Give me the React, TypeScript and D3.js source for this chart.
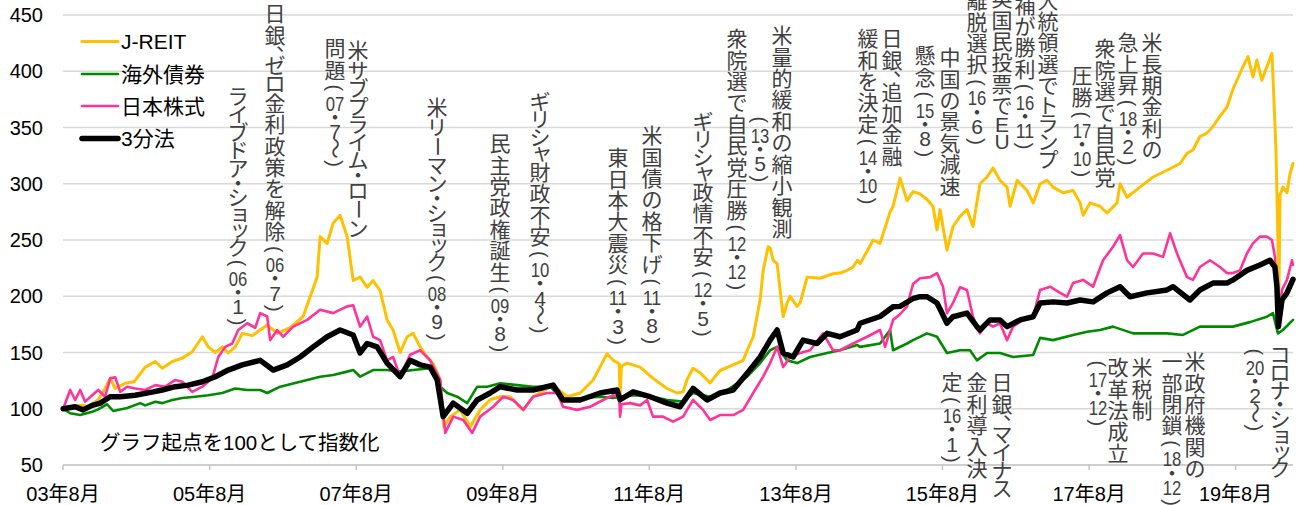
import React from "react";
import * as d3 from "d3";

// ---------------- data ----------------
const yTickValues = [50, 100, 150, 200, 250, 300, 350, 400, 450];
const xTickYears = [2003, 2005, 2007, 2009, 2011, 2013, 2015, 2017, 2019];
const xTickLabels = ["03年8月", "05年8月", "07年8月", "09年8月", "11年8月", "13年8月", "15年8月", "17年8月", "19年8月"];

const seriesNames = ["J-REIT", "海外債券", "日本株式", "3分法"];
const seriesColors = ["#FFC000", "#008A00", "#FF3399", "#000000"];

// [decimal year, index value]
const reitPoints: [number, number][] = [
  [2003.583, 100], [2003.747, 103], [2003.856, 103], [2003.924, 102], [2004.061, 108], [2004.156, 118], [2004.224, 127], [2004.293, 118], [2004.429, 122.7], [2004.55, 124], [2004.702, 137], [2004.838, 142], [2004.934, 136], [2005.07, 142], [2005.207, 145], [2005.343, 150.7], [2005.48, 164], [2005.561, 155], [2005.657, 150], [2005.752, 155], [2005.834, 149.6], [2005.93, 155], [2006.025, 167], [2006.162, 165], [2006.366, 174.5], [2006.503, 167], [2006.68, 172], [2006.857, 182], [2007.048, 217], [2007.089, 253], [2007.185, 247], [2007.267, 265], [2007.362, 272], [2007.458, 253], [2007.54, 214], [2007.635, 217], [2007.731, 208], [2007.812, 214], [2007.908, 205], [2008.003, 179], [2008.085, 170], [2008.181, 150], [2008.276, 164], [2008.358, 167], [2008.454, 155], [2008.549, 146], [2008.631, 140], [2008.727, 125.6], [2008.775, 84], [2008.863, 93], [2008.999, 99], [2009.136, 84], [2009.272, 99], [2009.408, 108], [2009.545, 110.7], [2009.681, 110.7], [2009.859, 99], [2009.995, 110.7], [2010.268, 121], [2010.459, 110.7], [2010.636, 114], [2010.814, 125.6], [2011.005, 149], [2011.087, 143], [2011.17, 140], [2011.182, 111], [2011.2, 138], [2011.278, 140.6], [2011.455, 137], [2011.632, 127], [2011.823, 118], [2011.96, 114], [2012.042, 115], [2012.096, 126], [2012.178, 136], [2012.273, 132], [2012.41, 123], [2012.546, 134], [2012.724, 139], [2012.86, 143], [2012.915, 152], [2012.997, 164], [2013.092, 197], [2013.133, 223], [2013.201, 244], [2013.228, 243], [2013.269, 232], [2013.324, 229], [2013.365, 205], [2013.406, 182], [2013.46, 194], [2013.501, 200], [2013.597, 191], [2013.637, 194], [2013.733, 217], [2013.91, 216], [2014.087, 220], [2014.183, 220.6], [2014.279, 223], [2014.361, 226], [2014.42, 232], [2014.456, 229], [2014.552, 240], [2014.634, 250], [2014.729, 247], [2014.866, 275], [2014.907, 280], [2015.002, 305], [2015.098, 285], [2015.18, 293], [2015.275, 291], [2015.371, 286], [2015.452, 280], [2015.507, 259], [2015.548, 277], [2015.643, 241], [2015.725, 262], [2015.821, 271], [2015.916, 277], [2015.998, 262], [2016.093, 300], [2016.189, 306], [2016.271, 314], [2016.366, 303], [2016.462, 297], [2016.503, 280], [2016.599, 303], [2016.735, 294], [2016.817, 283], [2016.912, 300], [2017.007, 303], [2017.089, 297], [2017.226, 292], [2017.362, 294], [2017.458, 283], [2017.499, 272], [2017.594, 283], [2017.73, 280], [2017.826, 274], [2017.962, 283], [2018.003, 300], [2018.099, 288], [2018.276, 297], [2018.454, 306], [2018.645, 312], [2018.822, 318], [2018.917, 327], [2018.999, 330], [2019.094, 342], [2019.19, 345], [2019.272, 351], [2019.367, 360], [2019.463, 368], [2019.545, 384], [2019.64, 398], [2019.681, 404], [2019.75, 413], [2019.818, 395], [2019.872, 410], [2019.94, 392], [2020.009, 404], [2020.077, 416], [2020.105, 374], [2020.132, 330], [2020.159, 250], [2020.172, 200], [2020.187, 290], [2020.227, 297], [2020.282, 292], [2020.323, 309], [2020.364, 318],
];

const bondPoints: [number, number][] = [
  [2003.583, 100], [2003.679, 96], [2003.815, 94.4], [2003.979, 97.4], [2004.047, 99], [2004.183, 104], [2004.265, 98], [2004.456, 100.6], [2004.634, 105], [2004.702, 103], [2004.838, 106.3], [2004.934, 105], [2005.07, 107.8], [2005.207, 109.6], [2005.384, 110.7], [2005.561, 112], [2005.752, 114], [2005.93, 118], [2006.093, 116.7], [2006.271, 116.7], [2006.366, 114], [2006.544, 119.6], [2006.816, 124], [2007.089, 128.5], [2007.267, 130], [2007.458, 133], [2007.54, 134.4], [2007.635, 128.5], [2007.812, 134.4], [2008.003, 134.4], [2008.181, 133], [2008.358, 134.4], [2008.59, 136], [2008.727, 119.6], [2008.822, 114], [2008.958, 110.7], [2009.095, 105], [2009.231, 119.6], [2009.367, 119.6], [2009.545, 122.7], [2009.777, 121], [2009.995, 119.6], [2010.227, 119.6], [2010.404, 107.8], [2010.677, 109.6], [2010.909, 110.7], [2011.087, 109.6], [2011.36, 112], [2011.632, 110.7], [2011.823, 107.8], [2012.042, 106.3], [2012.178, 114], [2012.41, 110.7], [2012.642, 116.7], [2012.915, 128.5], [2013.092, 140.6], [2013.228, 152], [2013.324, 155], [2013.46, 143], [2013.597, 140.6], [2013.774, 146], [2014.006, 149.6], [2014.183, 152], [2014.415, 156.7], [2014.456, 155], [2014.729, 158], [2014.866, 170], [2014.907, 152], [2015.098, 158], [2015.18, 161], [2015.371, 167], [2015.507, 164], [2015.643, 149.6], [2015.821, 152], [2015.957, 152], [2016.052, 143], [2016.189, 149.6], [2016.366, 149.6], [2016.544, 146], [2016.817, 147.8], [2016.912, 163], [2017.089, 161], [2017.362, 165.6], [2017.553, 168.5], [2017.73, 170], [2017.908, 173], [2018.181, 167], [2018.372, 167], [2018.645, 167], [2018.863, 165.6], [2019.094, 173], [2019.327, 173], [2019.545, 173], [2019.777, 177], [2020.009, 181.8], [2020.091, 185], [2020.159, 167], [2020.227, 170], [2020.364, 179],
];

const stockPoints: [number, number][] = [
  [2003.583, 100], [2003.679, 116.7], [2003.747, 107.8], [2003.815, 116.7], [2003.883, 106.3], [2003.979, 112], [2004.061, 116.7], [2004.156, 110.7], [2004.224, 127], [2004.293, 128], [2004.361, 115], [2004.456, 119.6], [2004.565, 118], [2004.702, 116.7], [2004.838, 121], [2004.975, 119.6], [2005.111, 125.6], [2005.207, 124], [2005.343, 115], [2005.48, 119.6], [2005.616, 127], [2005.698, 146], [2005.793, 155], [2005.889, 158], [2005.971, 170], [2006.093, 176], [2006.203, 172], [2006.271, 185], [2006.366, 182], [2006.407, 161], [2006.503, 170], [2006.584, 164], [2006.721, 173], [2006.912, 179], [2007.089, 188], [2007.267, 185], [2007.458, 191], [2007.54, 192], [2007.635, 173], [2007.731, 182], [2007.812, 164], [2007.908, 161], [2008.003, 143], [2008.085, 146], [2008.181, 128.5], [2008.317, 148], [2008.454, 152], [2008.59, 143], [2008.727, 125.6], [2008.795, 78.5], [2008.904, 93], [2009.04, 90], [2009.163, 78.5], [2009.272, 93], [2009.449, 101.8], [2009.586, 110.7], [2009.722, 107.8], [2009.859, 99], [2009.995, 110.7], [2010.186, 114], [2010.322, 114], [2010.404, 101.8], [2010.595, 99], [2010.773, 101.8], [2010.95, 107.8], [2011.087, 112], [2011.17, 110], [2011.182, 93], [2011.2, 104], [2011.319, 105], [2011.455, 103], [2011.551, 107.8], [2011.632, 93], [2011.769, 93], [2011.905, 88.5], [2012.042, 93], [2012.178, 107.8], [2012.314, 99], [2012.41, 90], [2012.546, 94.4], [2012.724, 94.4], [2012.86, 99], [2012.997, 114], [2013.133, 128.5], [2013.228, 140.6], [2013.324, 155], [2013.406, 137], [2013.501, 146], [2013.637, 149.6], [2013.774, 152], [2013.951, 167], [2014.087, 152], [2014.183, 152], [2014.361, 158], [2014.552, 164], [2014.729, 170], [2014.798, 155], [2014.907, 179], [2015.002, 184], [2015.098, 191], [2015.18, 211], [2015.275, 216], [2015.412, 217], [2015.507, 220.6], [2015.589, 208.5], [2015.643, 185], [2015.725, 194], [2015.821, 208], [2015.916, 205.6], [2015.998, 181.8], [2016.093, 167], [2016.189, 176], [2016.271, 173], [2016.366, 176], [2016.462, 161], [2016.544, 173], [2016.68, 179], [2016.817, 182], [2016.912, 205.6], [2017.048, 208.5], [2017.185, 203], [2017.28, 199.6], [2017.362, 211.7], [2017.499, 214.5], [2017.635, 208.5], [2017.771, 232], [2017.908, 244], [2018.003, 254.4], [2018.099, 232], [2018.181, 226], [2018.317, 238], [2018.454, 238], [2018.59, 235], [2018.686, 256], [2018.781, 238], [2018.917, 217], [2018.999, 214.5], [2019.094, 226], [2019.231, 232], [2019.367, 226], [2019.463, 220.6], [2019.545, 220.6], [2019.64, 223], [2019.736, 238], [2019.818, 247], [2019.913, 253], [2020.009, 253], [2020.077, 250], [2020.118, 235], [2020.145, 206], [2020.17, 182], [2020.214, 205.6], [2020.282, 214.5], [2020.35, 232], [2020.364, 228],
];

const mixPoints: [number, number][] = [
  [2003.583, 100], [2003.747, 101.8], [2003.856, 99], [2003.979, 103], [2004.088, 105], [2004.156, 107.8], [2004.224, 110.7], [2004.361, 110.7], [2004.565, 112], [2004.811, 115], [2004.934, 116.7], [2005.111, 119.6], [2005.288, 121], [2005.48, 124], [2005.657, 128.5], [2005.834, 134.4], [2006.025, 139], [2006.271, 143], [2006.448, 134.4], [2006.639, 139], [2006.816, 146], [2006.994, 155], [2007.185, 164], [2007.362, 170], [2007.54, 165.6], [2007.635, 149.6], [2007.731, 158], [2007.867, 155], [2008.003, 140.6], [2008.181, 128.5], [2008.317, 143], [2008.454, 139], [2008.59, 137], [2008.686, 125.6], [2008.767, 93], [2008.904, 105], [2009.095, 96], [2009.231, 107.8], [2009.408, 114], [2009.545, 119.6], [2009.777, 116.7], [2009.995, 116.7], [2010.268, 121], [2010.404, 107.8], [2010.636, 107.8], [2010.909, 114], [2011.141, 116.7], [2011.182, 108], [2011.36, 115], [2011.592, 110.7], [2011.823, 105], [2012.001, 101.8], [2012.178, 118], [2012.369, 107.8], [2012.546, 114], [2012.724, 116.7], [2012.915, 131.6], [2013.092, 146], [2013.228, 161], [2013.324, 170], [2013.406, 149.6], [2013.542, 146], [2013.678, 161], [2013.869, 158], [2014.006, 167], [2014.183, 164], [2014.415, 170], [2014.456, 176], [2014.729, 182], [2014.907, 190.7], [2015.002, 191], [2015.18, 198], [2015.275, 199.6], [2015.371, 199.6], [2015.507, 194], [2015.643, 176], [2015.725, 181.8], [2015.916, 185], [2016.052, 173], [2016.093, 170], [2016.23, 179], [2016.366, 179], [2016.462, 173], [2016.639, 179], [2016.817, 181.8], [2016.912, 194], [2017.089, 195], [2017.28, 194], [2017.458, 196.7], [2017.635, 195], [2017.826, 203], [2018.003, 208.5], [2018.14, 199.6], [2018.372, 203], [2018.645, 205.6], [2018.727, 208.5], [2018.958, 196.7], [2019.094, 205.6], [2019.272, 211.7], [2019.463, 211.7], [2019.545, 214.5], [2019.736, 223], [2019.913, 227.8], [2020.05, 232], [2020.118, 226], [2020.145, 208.5], [2020.165, 173], [2020.214, 196.7], [2020.282, 203], [2020.364, 215],
];

const allSeries = [reitPoints, bondPoints, stockPoints, mixPoints];
const seriesWidths = [3, 2.6, 2.6, 5.5];

const noteText = "グラフ起点を100として指数化";

// annotation columns (vertical text): [column x, top y, text]
const annotationColumns: [number, number, string][] = [
  [238, 87, "ライブドア・ショック（06・1）"],
  [275, 3, "日銀、ゼロ金利政策を解除（06・7）"],
  [358, 40, "米サブプライム・ローン"],
  [335, 38, "問題（07・7〜）"],
  [437, 97, "米リーマン・ショック（08・9）"],
  [500, 133, "民主党政権誕生（09・8）"],
  [540, 92, "ギリシャ財政不安（10・4〜）"],
  [618, 147, "東日本大震災（11・3）"],
  [652, 125, "米国債の格下げ（11・8）"],
  [703, 112, "ギリシャ政情不安（12・5）"],
  [737, 28, "衆院選で自民党圧勝（12・12）"],
  [782, 25, "米量的緩和の縮小観測"],
  [760, 113, "（13・5）"],
  [892, 28, "日銀、追加金融"],
  [868, 28, "緩和を決定（14・10）"],
  [950, 47, "中国の景気減速"],
  [925, 45, "懸念（15・8）"],
  [1002, -12, "英国民投票でEU"],
  [977, -10, "離脱選択（16・6）"],
  [1048, -32, "米大統領選でトランプ"],
  [1025, -27, "候補が勝利（16・11）"],
  [1105, 38, "衆院選で自民党"],
  [1082, 65, "圧勝（17・10）"],
  [1152, 32, "米長期金利の"],
  [1128, 32, "急上昇（18・2）"],
  [1002, 372, "日銀、マイナス"],
  [977, 372, "金利導入決"],
  [952, 372, "定（16・1）"],
  [1142, 357, "米税制"],
  [1118, 357, "改革法成立"],
  [1098, 357, "（17・12）"],
  [1195, 351, "米政府機関の"],
  [1172, 351, "一部閉鎖（18・12）"],
  [1280, 345, "コロナ・ショック"],
  [1255, 345, "（20・2〜）"],
];

// ---------------- helpers ----------------
const FONT = "'Liberation Sans', Arial, 'Noto Sans CJK JP', sans-serif";

function toDate(t: number): Date {
  const yr = Math.floor(t);
  const s = Date.UTC(yr, 0, 1);
  const e = Date.UTC(yr + 1, 0, 1);
  return new Date(s + (t - yr) * (e - s));
}

const SMALL_KANA = "ァィゥェォッャュョヮ";
function tokenize(s: string): string[] {
  const out: string[] = [];
  let i = 0;
  while (i < s.length) {
    if (/[0-9]/.test(s[i])) {
      let j = i;
      while (j < s.length && /[0-9]/.test(s[j])) j++;
      out.push(s.slice(i, j));
      i = j;
    } else {
      out.push(s[i]);
      i++;
    }
  }
  return out;
}
function advance(tok: string): number {
  if (/^[0-9]+$/.test(tok)) return 0.8;
  if (tok === "（" || tok === "）") return 0.66;
  if (tok === "・") return 0.55;
  if (tok === "、") return 0.5;
  if (tok === "ー") return 0.95;
  if (tok === "〜") return 0.8;
  if (SMALL_KANA.includes(tok)) return 0.74;
  if (/[ァ-ヶ]/.test(tok)) return 0.86;
  if (/[A-Za-z]/.test(tok)) return 0.8;
  return 1.02;
}

function VerticalText({ x, y, text, size, fill }: { x: number; y: number; text: string; size: number; fill: string }) {
  const toks = tokenize(text);
  let cur = y;
  const els: React.ReactNode[] = [];
  toks.forEach((tok, i) => {
    const a = advance(tok) * size;
    const yc = cur + a / 2;
    cur += a;
    const common = { fill, fontFamily: FONT, textAnchor: "middle" as const, dominantBaseline: "central" as const };
    if (tok === "（" || tok === "）") {
      const ch = tok === "（" ? "(" : ")";
      els.push(
        <text key={i} x={x} y={yc} fontSize={size * 0.95} transform={`rotate(90, ${x}, ${yc})`} {...common}>{ch}</text>
      );
    } else if (tok === "ー" || tok === "〜") {
      els.push(
        <text key={i} x={x} y={yc} fontSize={size} transform={`rotate(90, ${x}, ${yc})`} {...common}>{tok}</text>
      );
    } else if (tok === "、") {
      els.push(<text key={i} x={x + 0.55 * size} y={yc - 0.4 * size} fontSize={size} {...common}>{tok}</text>);
    } else if (SMALL_KANA.includes(tok)) {
      els.push(<text key={i} x={x + 0.1 * size} y={yc - 0.1 * size} fontSize={size} {...common}>{tok}</text>);
    } else if (/^[0-9]{2,}$/.test(tok)) {
      els.push(
        <text key={i} x={x} y={yc} fontSize={size} textLength={0.88 * size} lengthAdjust="spacingAndGlyphs" {...common}>{tok}</text>
      );
    } else {
      els.push(<text key={i} x={x} y={yc} fontSize={size} {...common}>{tok}</text>);
    }
  });
  return <g>{els}</g>;
}

// ---------------- chart ----------------
export default function App() {
  const left = 63, right = 1293, top = 15, bottom = 465;
  const x = d3.scaleTime().domain([new Date(Date.UTC(2003, 7, 1)), toDate(2020.364)]).range([left, right]);
  const y = d3.scaleLinear().domain([50, 450]).range([bottom, top]);
  const line = d3
    .line<[number, number]>()
    .x((d) => x(toDate(d[0])))
    .y((d) => y(d[1]));

  const tickDates = xTickYears.map((yr) => new Date(Date.UTC(yr, 7, 1)));
  const legendRows = [41.5, 74, 106, 138.5];

  return (
    <div style={{ position: "fixed", left: 0, top: 0 }}>
      <svg width={1301} height={505} style={{ display: "block", background: "#fff" }}>
        {/* grid */}
        {yTickValues.map((v) => (
          <line key={v} x1={left} x2={right} y1={y(v)} y2={y(v)} stroke={v === 50 ? "#bfbfbf" : "#d9d9d9"} strokeWidth={1.3} />
        ))}
        {/* x ticks */}
        {tickDates.map((d, i) => (
          <line key={i} x1={x(d)} x2={x(d)} y1={bottom} y2={bottom + 5} stroke="#bfbfbf" strokeWidth={1.3} />
        ))}
        {/* y labels */}
        {yTickValues.map((v) => (
          <text key={v} x={43} y={y(v)} textAnchor="end" dominantBaseline="central" fontSize={20} fontFamily={FONT} fill="#000">
            {v}
          </text>
        ))}
        {/* x labels */}
        {tickDates.map((d, i) => (
          <text key={i} x={x(d)} y={494} textAnchor="middle" dominantBaseline="central" fontSize={20} fontFamily={FONT} fill="#000">
            {xTickLabels[i]}
          </text>
        ))}

        {/* annotations */}
        {annotationColumns.map(([cx, cy, t], i) => (
          <VerticalText key={i} x={cx} y={cy} text={t} size={21} fill="#404040" />
        ))}

        {/* series */}
        {allSeries.map((pts, i) => (
          <path
            key={i}
            d={line(pts) || ""}
            fill="none"
            stroke={seriesColors[i]}
            strokeWidth={seriesWidths[i]}
            strokeLinejoin="round"
            strokeLinecap="round"
          />
        ))}

        {/* note */}
        <text x={100} y={442} dominantBaseline="central" fontSize={20.5} fontFamily={FONT} fill="#000">
          {noteText}
        </text>

        {/* legend */}
        {seriesNames.map((n, i) => (
          <g key={n}>
            <line x1={82} x2={118} y1={legendRows[i]} y2={legendRows[i]} stroke={seriesColors[i]} strokeWidth={seriesWidths[i]} strokeLinecap="round" />
            <text x={121} y={legendRows[i]} dominantBaseline="central" fontSize={21} fontFamily={FONT} fill="#000">
              {n}
            </text>
          </g>
        ))}
      </svg>
    </div>
  );
}
